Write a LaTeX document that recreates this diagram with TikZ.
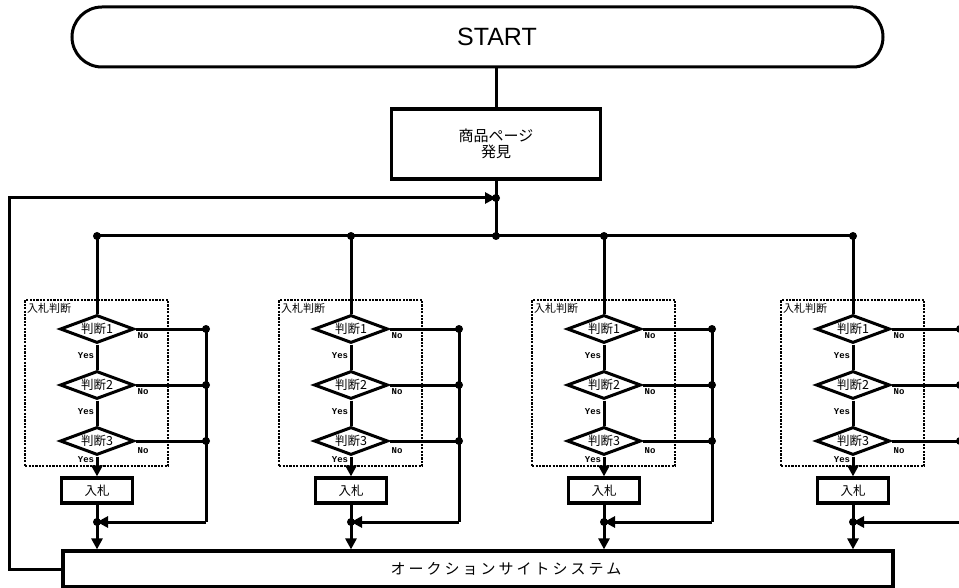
\documentclass[tikz,border=0pt]{standalone}
\usepackage{fontspec}
\setmainfont{Liberation Serif}
\newfontfamily\jpfont{Noto Sans CJK JP}
\newfontfamily\lsans{Liberation Sans}
\newfontfamily\lmono{Liberation Mono}
\usetikzlibrary{shapes.geometric,arrows.meta,calc}
\begin{document}
\begin{tikzpicture}[x=1pt,y=-1pt,
  ln/.style={line width=3pt},
  arr/.style={line width=3pt,-{Triangle[length=11pt,width=11pt]}},
  jdot/.style={circle,fill=black,inner sep=0pt,minimum size=8pt},
  judge/.style={diamond,draw,line width=3pt,minimum width=74pt,minimum height=28pt,inner sep=0pt,aspect=2.6,font=\jpfont\fontsize{12.5}{12.5}\selectfont},
  bidbox/.style={draw,line width=3.2pt,minimum width=71pt,minimum height=25pt,inner sep=0pt,font=\jpfont\fontsize{12.5}{12.5}\selectfont},
  grpbox/.style={draw,line width=2.4pt,dash pattern=on 2.2pt off 1.2pt,minimum width=143pt,minimum height=166pt,inner sep=0pt,anchor=north west},
  grplabel/.style={anchor=north west,inner sep=0pt,font=\jpfont\fontsize{11}{11}\selectfont},
  yn/.style={inner sep=0pt,font=\lmono\bfseries\fontsize{9}{9}\selectfont}
]
\useasboundingbox (0,0) rectangle (959,588);
\clip (0,0) rectangle (959,588);
\fill[white] (0,0) rectangle (959,588);

% START
\node[draw,line width=3pt,rounded corners=30pt,minimum width=811pt,minimum height=60pt,inner sep=0pt] (startbox) at (477.5,37) {};
\node[font=\lsans\fontsize{25}{25}\selectfont,inner sep=0pt] (startlabel) at (497,37) {START};

% product page
\node[draw,line width=3.2pt,minimum width=209pt,minimum height=70pt,inner sep=0pt,align=center,font=\jpfont\fontsize{15}{16}\selectfont] (page) at (496,144) {商品ページ\\発見};

% system
\node[draw,line width=3.2pt,minimum width=830pt,minimum height=36pt,inner sep=0pt] (sys) at (478,569) {};
\node[inner sep=0pt,font=\jpfont\fontsize{15}{15}\selectfont\addfontfeature{LetterSpace=20}] (syslabel) at (506,569) {オークションサイトシステム};

\coordinate (join) at (496,198);
\coordinate (bus) at (496,236);
\coordinate (loopc) at (9,198);

\draw[ln] (page.north |- startbox.south) -- (page.north);
\draw[ln] (page.south) -- (bus);
\draw[arr] (sys.west) -| (loopc) -- (join);
\node[jdot] at (join) {};
\node[jdot] at (bus) {};

\foreach \c/\r/\i in {97/206/1,351/459/2,604/712/3,853/960/4}{
  \node[grpbox] (grp\i) at ({\c-73},299) {};
  \node[grplabel] (lbl\i) at ({\c-70},303) {入札判断};
  \node[judge] (a\i) at (\c,329) {判断1};
  \node[judge] (b\i) at (\c,385) {判断2};
  \node[judge] (e\i) at (\c,441) {判断3};
  \node[bidbox] (bid\i) at (\c,490.5) {入札};
  \coordinate (top\i) at (\c,236);
  \coordinate (m\i) at (\c,522);
  \coordinate (ra\i) at (\r,329);
  \coordinate (rb\i) at (\r,385);
  \coordinate (re\i) at (\r,441);
  \coordinate (rm\i) at (\r,522);
  \draw[ln] (top\i) -- (a\i.north);
  \draw[ln] (a\i.south) -- (b\i.north);
  \draw[ln] (b\i.south) -- (e\i.north);
  \draw[arr] (e\i.south) -- (bid\i.north);
  \draw[ln] (bid\i.south) -- (m\i);
  \draw[arr] (m\i) -- (m\i |- sys.north);
  \draw[ln] (a\i.east) -- (ra\i);
  \draw[ln] (b\i.east) -- (rb\i);
  \draw[ln] (e\i.east) -- (re\i);
  \draw[ln] (ra\i) -- (rm\i);
  \draw[arr] (rm\i) -- (m\i);
  \foreach \p in {top\i,ra\i,rb\i,re\i,m\i}{\node[jdot] at (\p) {};}
  \node[yn] (y1\i) at ({\c-11},356) {Yes};
  \node[yn] (y2\i) at ({\c-11},412) {Yes};
  \node[yn] (y3\i) at ({\c-11},460) {Yes};
  \node[yn] (n1\i) at ({\c+46},336) {No};
  \node[yn] (n2\i) at ({\c+46},392) {No};
  \node[yn] (n3\i) at ({\c+46},451) {No};
}
\draw[ln] (top1) -- (top4);
\end{tikzpicture}
\end{document}
